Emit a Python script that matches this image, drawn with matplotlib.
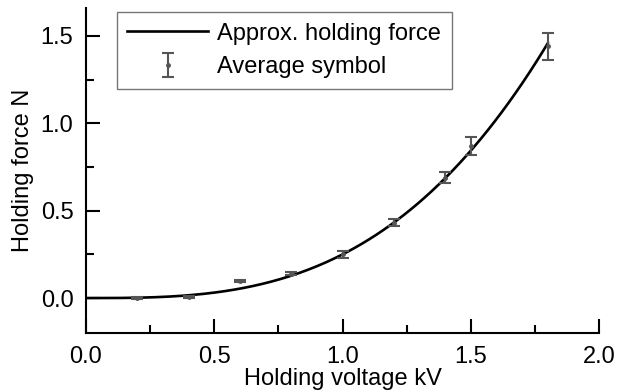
import numpy as np
import matplotlib.pyplot as plt
from matplotlib.ticker import MultipleLocator

# measured holding force vs voltage
voltage = [0.2, 0.4, 0.6, 0.8, 1.0, 1.2, 1.4, 1.5, 1.8]
force = [0.0, 0.005, 0.10, 0.14, 0.25, 0.43, 0.69, 0.87, 1.44]
force_err = [0.004, 0.005, 0.006, 0.01, 0.02, 0.02, 0.03, 0.05, 0.075]

# cubic approximation F = k * V^3, k from least squares on the measurements
v = np.array(voltage)
f = np.array(force)
k = np.sum(f * v**3) / np.sum(v**6)
v_fit = np.linspace(0, 1.8, 200)
f_fit = k * v_fit**3

plt.rcParams['font.family'] = ['Liberation Sans', 'DejaVu Sans']

fig = plt.figure(figsize=(6.3, 3.92), dpi=100)
ax = fig.add_axes([0.1365, 0.1505, 0.8145, 0.829])

ax.plot(v_fit, f_fit, 'k-', lw=1.9, label='Approx. holding force')
ax.errorbar(voltage, force, yerr=force_err, fmt='o', ms=2.5, color='#555555',
            ecolor='#555555', elinewidth=1.5, capsize=4.5, capthick=1.5,
            label='Average symbol', zorder=3)

ax.set_xlim(0, 2.0)
ax.set_ylim(-0.2, 1.66)
ax.xaxis.set_major_locator(MultipleLocator(0.5))
ax.xaxis.set_minor_locator(MultipleLocator(0.25))
ax.yaxis.set_major_locator(MultipleLocator(0.5))
ax.yaxis.set_minor_locator(MultipleLocator(0.25))
ax.tick_params(which='both', direction='in', width=1.5, labelsize=17)
ax.tick_params(which='major', length=10, pad=9)
ax.tick_params(which='minor', length=6)
ax.spines['top'].set_visible(False)
ax.spines['right'].set_visible(False)
ax.spines['left'].set_linewidth(1.5)
ax.spines['bottom'].set_linewidth(1.5)

ax.set_xlabel('Holding voltage kV', fontsize=17, labelpad=0)
ax.set_ylabel('Holding force N', fontsize=17, labelpad=5)

leg = ax.legend(loc='upper left', bbox_to_anchor=(0.06, 0.988), borderaxespad=0,
                fontsize=17, fancybox=False, edgecolor='#555555',
                handlelength=3.4, borderpad=0.45, labelspacing=0.5,
                handletextpad=0.4)
leg.get_frame().set_linewidth(1.0)

plt.savefig('out.png', dpi=100)
